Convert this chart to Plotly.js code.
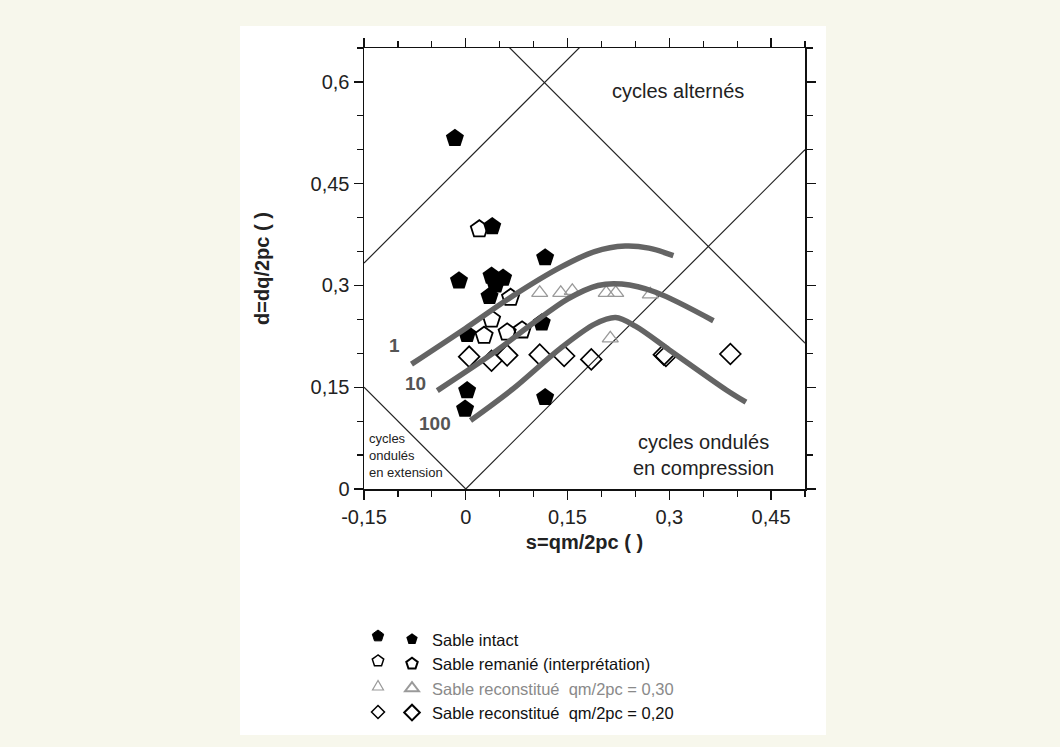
<!DOCTYPE html>
<html><head><meta charset="utf-8">
<script src="https://cdn.plot.ly/plotly-3.0.1.min.js"></script>
<style>html,body{margin:0;padding:0;background:#f7f7ec;}</style>
</head><body><div id="chart" style="width:1060px;height:747px;"></div>
<script>
// ---- data (s = qm/2pc, d = dq/2pc) ----
const intactS = [-0.016, 0.039, 0.117, -0.010, 0.038, 0.055, 0.044, 0.035, 0.002, 0.112, 0.002, -0.001, 0.117];
const intactD = [0.517, 0.387, 0.341, 0.307, 0.314, 0.311, 0.301, 0.284, 0.228, 0.245, 0.145, 0.118, 0.135];

const remanieS = [0.020, 0.066, 0.038, 0.027, 0.061, 0.083];
const remanieD = [0.383, 0.282, 0.250, 0.226, 0.231, 0.234];

const recon30S = [0.109, 0.140, 0.157, 0.207, 0.221, 0.272, 0.213];
const recon30D = [0.289, 0.289, 0.292, 0.289, 0.289, 0.287, 0.222];

const recon20S = [0.005, 0.038, 0.061, 0.109, 0.145, 0.185, 0.292, 0.295, 0.390];
const recon20D = [0.195, 0.189, 0.197, 0.198, 0.196, 0.191, 0.198, 0.196, 0.199];

// curves (number of cycles 1, 10, 100)
const curve1S = [-0.080, 0.000, 0.070, 0.140, 0.190, 0.235, 0.270, 0.306];
const curve1D = [0.184, 0.237, 0.285, 0.327, 0.350, 0.358, 0.355, 0.344];
const curve10S = [-0.042, 0.040, 0.100, 0.150, 0.195, 0.230, 0.280, 0.365];
const curve10D = [0.145, 0.200, 0.245, 0.280, 0.300, 0.302, 0.290, 0.248];
const curve100S = [0.007, 0.070, 0.139, 0.190, 0.221, 0.250, 0.300, 0.384, 0.413];
const curve100D = [0.101, 0.148, 0.207, 0.243, 0.2526, 0.240, 0.205, 0.146, 0.128];
const curveLabels = ["1", "10", "100"];
const curveLabelS = [-0.105, -0.074, -0.046];
const curveLabelD = [0.212, 0.155, 0.096];

// boundary lines d = slope*s + intercept, between sFrom and sTo
const boundarySlope = [1, -1, 1, -1];
const boundaryIntercept = [0.483, 0.715, 0, 0];
const boundaryFrom = [-0.15, -0.15, 0, -0.15];
const boundaryTo = [0.5, 0.5, 0.5, 0];

// axis tick labels
const xTickVals = [-0.15, 0, 0.15, 0.3, 0.45];
const xTickText = ["-0,15", "0", "0,15", "0,3", "0,45"];
const yTickVals = [0, 0.15, 0.3, 0.45, 0.6];
const yTickText = ["0", "0,15", "0,3", "0,45", "0,6"];

const seriesNames = ["Sable intact", "Sable remanié (interprétation)", "Sable reconstitué  qm/2pc = 0,30", "Sable reconstitué  qm/2pc = 0,20"];

// ---- layout constants ----
const W = 1060, H = 747;
const L = 364, R = 805, T = 48, B = 489;
const pw = R - L, ph = B - T;
const px = x => (x - L) / pw;
const py = y => (B - y) / ph;
const FONT = '"Liberation Sans", Arial, sans-serif';
const curveColor = '#646464';
const grayTri = '#9a9a9a';

const traces = [];
boundarySlope.forEach((m, i) => {
  const xs = [boundaryFrom[i], boundaryTo[i]];
  traces.push({x: xs, y: xs.map(v => m * v + boundaryIntercept[i]), mode: 'lines',
    line: {color: '#222', width: 1.2}, showlegend: false, hoverinfo: 'skip'});
});
traces.push({x: intactS, y: intactD, mode: 'markers', name: seriesNames[0],
  marker: {symbol: 'pentagon', size: 19, color: '#000', line: {width: 0}}});
traces.push({x: remanieS, y: remanieD, mode: 'markers', name: seriesNames[1],
  marker: {symbol: 'pentagon-open', size: 18, color: '#000', line: {width: 1.8}}});
traces.push({x: recon30S, y: recon30D, mode: 'markers',
  name: '<span style="color:#8a8a8a">' + seriesNames[2] + '</span>',
  marker: {symbol: 'triangle-up-open', size: 14, color: grayTri, line: {width: 1.3}}});
traces.push({x: recon20S, y: recon20D, mode: 'markers', name: seriesNames[3],
  marker: {symbol: 'diamond-open', size: 16, color: '#000', line: {width: 1.7}}});
[[curve1S, curve1D], [curve10S, curve10D], [curve100S, curve100D]].forEach(c => {
  traces.push({x: c[0], y: c[1], mode: 'lines', line: {color: curveColor, width: 5.5, shape: 'spline', smoothing: 0.9},
    showlegend: false, hoverinfo: 'skip'});
});

const annotations = [];
curveLabels.forEach((t, i) => annotations.push({x: curveLabelS[i], y: curveLabelD[i], text: t, showarrow: false,
  font: {family: FONT, size: 19, color: '#555', weight: 'bold'}}));
annotations.push({x: 0.313, y: 0.587, text: 'cycles alternés', showarrow: false,
  font: {family: FONT, size: 20, color: '#222'}});
annotations.push({x: 0.351, y: 0.050, text: 'cycles ondulés<br>en compression', showarrow: false,
  font: {family: FONT, size: 20, color: '#222'}});
annotations.push({x: -0.146, y: 0.050, xanchor: 'left', align: 'left', text: 'cycles<br>ondulés<br>en extension', showarrow: false,
  font: {family: FONT, size: 13, color: '#222'}});
annotations.push({x: 0.428, y: -0.056, text: '5', showarrow: false,
  font: {family: FONT, size: 20, color: '#222'}});

// first-column legend symbols
const legendRowsY = [636, 661, 686, 712];
const legendX1 = 378;
function poly(pts){ return 'M' + pts.map(p => p[0].toFixed(2) + ',' + p[1].toFixed(2)).join('L') + 'Z'; }
const pent = poly([0,1,2,3,4].map(k => { const a = Math.PI/2 + k*2*Math.PI/5; return [6*Math.cos(a), 6*Math.sin(a)]; }));
const tri = poly([[0,5.5],[-5.5,-4],[5.5,-4]]);
const dia = poly([[0,6.5],[6.5,0],[0,-6.5],[-6.5,0]]);
const legShapes = [
  {path: pent, fillcolor: '#000', line: {color: '#000', width: 1}},
  {path: pent, fillcolor: 'rgba(0,0,0,0)', line: {color: '#000', width: 1.5}},
  {path: tri, fillcolor: 'rgba(0,0,0,0)', line: {color: grayTri, width: 1.2}},
  {path: dia, fillcolor: 'rgba(0,0,0,0)', line: {color: '#000', width: 1.5}},
].map((s, i) => Object.assign({type: 'path', xref: 'paper', yref: 'paper', xsizemode: 'pixel', ysizemode: 'pixel',
  xanchor: px(legendX1), yanchor: py(legendRowsY[i])}, s));

const shapes = [
  {type: 'rect', xref: 'paper', yref: 'paper', x0: px(240), x1: px(826), y0: py(735), y1: py(26),
   fillcolor: '#ffffff', line: {width: 0}, layer: 'below'},
].concat(legShapes);

const axisCommon = {
  showline: true, linecolor: '#111', linewidth: 1.5, mirror: 'ticks', ticks: 'outside', ticklen: 9,
  tickwidth: 1.3, tickcolor: '#111', showgrid: false, zeroline: false, tickmode: 'array',
  tickfont: {family: FONT, size: 20, color: '#222'},
  minor: {dtick: 0.05, ticks: 'outside', ticklen: 6, tickwidth: 1.2, tickcolor: '#111', showgrid: false}
};

const layout = {
  width: W, height: H,
  margin: {l: L, r: W - R, t: T, b: H - B, pad: 0},
  paper_bgcolor: '#f7f7ec', plot_bgcolor: '#ffffff',
  font: {family: FONT, color: '#222'},
  xaxis: Object.assign({}, axisCommon, {range: [-0.15, 0.5], tickvals: xTickVals, ticktext: xTickText,
    minor: Object.assign({}, axisCommon.minor, {tick0: -0.15}),
    title: {text: 's=qm/2pc ( )', font: {family: FONT, size: 20, color: '#222', weight: 'bold'}, standoff: 8}}),
  yaxis: Object.assign({}, axisCommon, {range: [0, 0.65], tickvals: yTickVals, ticktext: yTickText,
    minor: Object.assign({}, axisCommon.minor, {tick0: 0}),
    title: {text: 'd=dq/2pc ( )', font: {family: FONT, size: 20, color: '#222', weight: 'bold'}, standoff: 35}}),
  showlegend: true,
  legend: {x: px(392), y: py(622), xanchor: 'left', yanchor: 'top', bgcolor: 'rgba(0,0,0,0)',
    font: {family: FONT, size: 16.5, color: '#111'}, itemsizing: 'constant', tracegroupgap: 0},
  annotations: annotations,
  shapes: shapes
};

Plotly.newPlot('chart', traces, layout, {displayModeBar: false, staticPlot: true});
</script></body></html>
